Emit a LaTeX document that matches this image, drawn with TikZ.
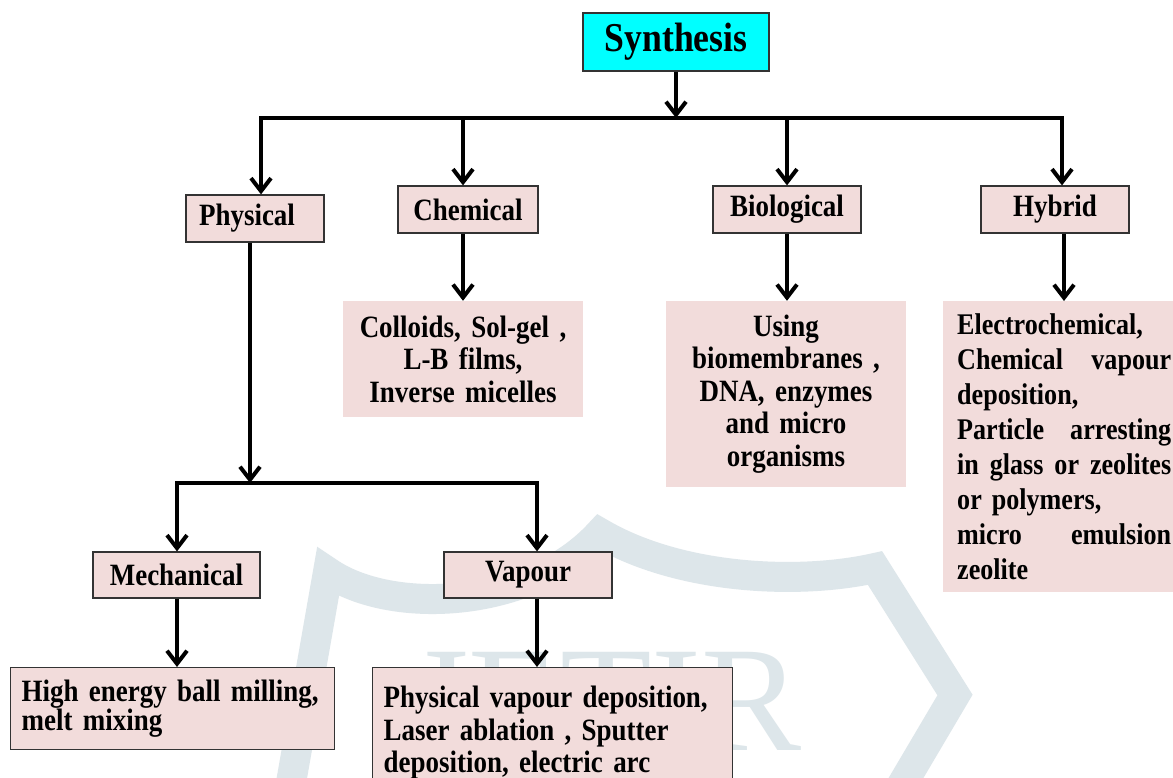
\documentclass[tikz,border=0pt]{standalone}
\usepackage{fontspec}
\setmainfont{Liberation Serif}[FakeStretch=0.87, WordSpace=0.7]
\newfontfamily\wmfont{Liberation Serif}
\usetikzlibrary{arrows.meta}
\definecolor{pinkbox}{RGB}{242,220,219}
\definecolor{cyanbox}{RGB}{0,255,255}
\definecolor{wm}{RGB}{221,230,234}
\newcommand{\jline}[1]{\leavevmode\hbox to 214pt{#1}}
\begin{document}
\begin{tikzpicture}[x=1pt,y=-1pt,
  box/.style={draw=black!80, line width=1.2pt, fill=pinkbox, inner sep=0pt,
    font=\fontsize{31}{32.5}\selectfont\bfseries},
  plainbox/.style={fill=pinkbox, inner sep=0pt, align=center,
    font=\fontsize{31}{32.5}\selectfont\bfseries},
  arr/.style={line width=4pt, -{Straight Barb[length=13pt,width=20pt]}},
  barline/.style={line width=4.5pt, line cap=rect},
  wmline/.style={draw=wm, line width=30pt, line join=miter}
]
\useasboundingbox (0,0) rectangle (1173,778);
\fill[white] (0,0) rectangle (1173,778);

% watermark
\draw[wmline] (288,800) -- (328,572)
  .. controls (390,615) and (530,610) .. (600,533)
  .. controls (680,580) and (800,585) .. (875,568)
  -- (955,695) -- (893,800);
\node[wm, anchor=base, inner sep=0pt, font=\wmfont\fontsize{150}{150}\selectfont] (wmtext) at (606,750) {JETIR};

% nodes
\node[box, fill=cyanbox, minimum width=186pt, minimum height=58pt,
  font=\fontsize{41}{41}\selectfont\bfseries] (syn) at (676,42) {Synthesis};

\node[box, minimum width=138pt, minimum height=47pt] (phys) at (255,218.5) {\hspace*{-16pt}Physical};
\node[box, minimum width=140pt, minimum height=47pt] (chem) at (468,209.5) {Chemical};
\node[box, minimum width=148pt, minimum height=47pt] (bio) at (787,209.5) {Biological};
\node[box, minimum width=148pt, minimum height=47pt] (hyb) at (1055,209.5) {Hybrid};

\node[plainbox, text width=230pt, minimum width=240pt, minimum height=116pt] (coll) at (463,359)
  {Colloids, Sol-gel ,\\ L-B films,\\ Inverse micelles};
\node[plainbox, text width=230pt, minimum width=240pt, minimum height=186pt] (using) at (786,394)
  {Using\\ biomembranes ,\\ DNA, enzymes\\ and micro\\ organisms};
\node[plainbox, align=left, text width=214pt, inner xsep=14pt, minimum height=291pt,
  anchor=north west, font=\fontsize{30}{35}\selectfont\bfseries] (elec) at (943,301)
  {Electrochemical,\\
   \jline{Chemical\hfill vapour}\\
   deposition,\\
   \jline{Particle\hfill arresting}\\
   \jline{in\hfill glass\hfill or\hfill zeolites}\\
   or polymers,\\
   \jline{micro\hfill emulsion}\\
   zeolite};

\node[box, minimum width=167pt, minimum height=46pt] (mech) at (176.5,575) {Mechanical};
\node[box, minimum width=168pt, minimum height=46pt] (vap) at (528,575) {Vapour};

\node[box, align=left, text width=302pt, inner xsep=11pt, minimum height=82pt,
  font=\fontsize{31}{28}\selectfont\bfseries, anchor=north west] (high) at (10,667)
  {High energy ball milling,\\ melt mixing};
\node[box, align=left, text width=338pt, inner xsep=11pt, minimum height=130pt,
  anchor=north west] (pvd) at (372,667)
  {Physical vapour deposition,\\ Laser ablation , Sputter\\ deposition, electric arc};

% connectors
\coordinate (bl) at (261,118);
\coordinate (br) at (1062,118);
\draw[barline] (bl) -- (br);
\draw[arr] (syn.south) -- (syn.south |- bl);
\draw[arr] (bl) -- (bl |- phys.north);
\draw[arr] ([xshift=-5pt]chem.north |- bl) -- ([xshift=-5pt]chem.north);
\draw[arr] (bio.north |- bl) -- (bio.north);
\draw[arr] (br) -- (br |- hyb.north);

\draw[arr] (coll.north |- chem.south) -- (coll.north);
\draw[arr] (bio.south) -- (bio.south |- using.north);
\draw[arr] ([xshift=9pt]hyb.south) -- ([xshift=9pt]hyb.south |- elec.north);

\coordinate (pj) at (250,483);
\coordinate (ml) at (177,483);
\coordinate (vr) at (537,483);
\draw[arr] (pj |- phys.south) -- (pj);
\draw[barline] (ml) -- (vr);
\draw[arr] (ml) -- (ml |- mech.north);
\draw[arr] (vr) -- (vr |- vap.north);
\draw[arr] (ml |- mech.south) -- (ml |- high.north);
\draw[arr] (vr |- vap.south) -- (vr |- pvd.north);
\end{tikzpicture}
\end{document}
